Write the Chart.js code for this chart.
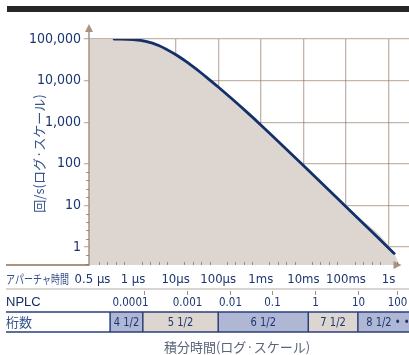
<!DOCTYPE html>
<html>
<head>
<meta charset="utf-8">
<script src="https://cdn.jsdelivr.net/npm/chart.js@4.4.1/dist/chart.umd.min.js"></script>
<style>
  html, body { margin: 0; padding: 0; background: #fff; overflow: hidden; }
  canvas { display: block; }
</style>
</head>
<body>
<canvas id="chart" width="409" height="355"></canvas>
<script>
// 読み取り値 (時間は秒, 回/s)
const curveTime = [3.6e-7, 1e-6, 2e-6, 4e-6, 1e-5, 2e-5, 4e-5, 6.5e-5, 1e-4, 2e-4, 5e-4, 1e-3, 1e-2, 1e-1, 1.35];
const curveRate = [100000, 97000, 88000, 70000, 42300, 26200, 15200, 10100, 7000, 3800, 1650, 860, 91, 9.3, 0.7];
const fillEndTime = 1.8;

const apertureTicks = [1.12e-7, 1e-6, 1e-5, 1e-4, 1e-3, 1e-2, 1e-1, 1];
const apertureLabels = ['0.5 µs', '1 µs', '10µs', '100µs', '1ms', '10ms', '100ms', '1s'];
const rateTicks = [1, 10, 100, 1000, 10000, 100000];
const rateLabels = ['1', '10', '100', '1,000', '10,000', '100,000'];

const nplcLabels = ['0.0001', '0.001', '0.01', '0.1', '1', '10', '100'];
const nplcTime = [1.8e-6, 1.85e-5, 1.9e-4, 1.85e-3, 1.87e-2, 0.19, 1.57];

const digitLabels = ['4 1/2', '5 1/2', '6 1/2', '7 1/2', '8 1/2 • •'];
const digitEdges = [2.9e-7, 1.7e-6, 1.0e-4, 1.3e-2, 0.19, 5];

const X_MIN = 9.27e-8, X_MAX = 3.01;
const Y_MIN = 0.368, Y_MAX = 100000;

const NAVY = '#1c3672';
const BEIGE = '#ddd6d0';
const BLUE = '#b0b7d5';
const GRID = 'rgba(140,105,85,0.5)';
const AXIS = '#a89282';
const NARROW = "'Liberation Sans Narrow', 'DejaVu Sans Condensed', sans-serif";
const CJK = "'Noto Sans CJK JP', sans-serif";

const curvePts = curveTime.map((t, i) => ({ x: t, y: curveRate[i] }));
const fillPts = [{ x: X_MIN, y: Y_MAX }].concat(curvePts, [{ x: fillEndTime, y: Y_MIN }]);

function txt(c, s, x, y, font, color, align, sx) {
  c.save();
  c.font = font;
  c.fillStyle = color;
  c.textAlign = align || 'left';
  c.textBaseline = 'middle';
  c.translate(x, y);
  c.scale(sx || 1, 1);
  c.fillText(s, 0, 0);
  c.restore();
}

// 軸の矢印, 副目盛り, 下の表
const extras = {
  id: 'extras',
  afterDraw(chart) {
    const c = chart.ctx, xs = chart.scales.x, ys = chart.scales.y, a = chart.chartArea;
    const W = chart.width;

    // 上の黒帯
    c.fillStyle = '#262626';
    c.fillRect(7, 6, W - 7, 6);

    // 縦軸と矢印
    c.strokeStyle = AXIS; c.fillStyle = AXIS; c.lineWidth = 1.5;
    c.beginPath(); c.moveTo(a.left, 31); c.lineTo(a.left, a.bottom + 1); c.stroke();
    c.beginPath(); c.moveTo(a.left, 24); c.lineTo(a.left - 4, 32); c.lineTo(a.left + 4, 32); c.closePath(); c.fill();

    // 横軸 (左側の線と矢印)
    c.lineWidth = 2;
    c.beginPath(); c.moveTo(6, a.bottom); c.lineTo(a.left, a.bottom); c.stroke();
    const tip = xs.getPixelForValue(fillEndTime) + 2;
    c.beginPath(); c.moveTo(tip, a.bottom); c.lineTo(tip - 8, a.bottom - 4); c.lineTo(tip - 8, a.bottom + 4); c.closePath(); c.fill();

    // 副目盛り
    c.lineWidth = 1;
    c.strokeStyle = 'rgba(140,115,100,0.8)';
    for (let d = -8; d <= 1; d++) {
      for (let k = 1; k < 5; k++) {
        const v = Math.pow(10, d + k * 0.2);
        if (v > X_MIN && v < fillEndTime) {
          const px = Math.round(xs.getPixelForValue(v)) + 0.5;
          c.beginPath(); c.moveTo(px, a.bottom - 3); c.lineTo(px, a.bottom); c.stroke();
        }
        if (v > Y_MIN && v < Y_MAX) {
          const py = Math.round(ys.getPixelForValue(v)) + 0.5;
          c.beginPath(); c.moveTo(a.left - 3, py); c.lineTo(a.left, py); c.stroke();
        }
      }
    }

    // 縦軸タイトル
    c.save();
    c.translate(39, 153.5);
    c.rotate(-Math.PI / 2);
    txt(c, '回/s(ログ·スケール)', 0, 0, '13px ' + CJK, '#37558f', 'center');
    c.restore();

    // アパーチャ時間の行
    txt(c, 'アパーチャ時間', 6, 279, '12px ' + CJK, '#34508a', 'left', 0.75);
    c.strokeStyle = '#cdc6c0'; c.lineWidth = 1.5;
    c.beginPath(); c.moveTo(6, 289); c.lineTo(W, 289); c.stroke();

    // NPLC の行
    txt(c, 'NPLC', 6, 302, '13px "Liberation Sans", sans-serif', '#142a5e', 'left');
    c.strokeStyle = '#a09080'; c.lineWidth = 1;
    nplcTime.forEach((t, i) => {
      const px = Math.round(xs.getPixelForValue(t)) + 0.5;
      c.beginPath(); c.moveTo(px, 291); c.lineTo(px, 295); c.stroke();
      if (i === 0) txt(c, nplcLabels[i], px + 4, 303, '13px ' + NARROW, NAVY, 'right', 0.88);
      else txt(c, nplcLabels[i], px, 303, '13px ' + NARROW, NAVY, 'center', 0.88);
    });

    // 桁数の行
    const top = 312, bot = 332;
    for (let i = 0; i < digitLabels.length; i++) {
      const x0 = xs.getPixelForValue(digitEdges[i]);
      const x1 = xs.getPixelForValue(digitEdges[i + 1]);
      c.fillStyle = i % 2 === 0 ? BLUE : BEIGE;
      c.fillRect(x0, top, x1 - x0, bot - top);
      txt(c, digitLabels[i], (x0 + Math.min(x1, W + 9)) / 2, 322.5, '13px ' + NARROW, NAVY, 'center', 0.85);
    }
    c.strokeStyle = '#2a3f7a'; c.lineWidth = 1.5;
    c.beginPath();
    c.moveTo(6, top); c.lineTo(W, top);
    c.moveTo(6, bot); c.lineTo(W, bot);
    digitEdges.slice(0, -1).forEach(t => {
      const px = xs.getPixelForValue(t);
      c.moveTo(px, top); c.lineTo(px, bot);
    });
    c.stroke();
    txt(c, '桁数', 6, 322, '13px ' + CJK, '#34508a', 'left');

    // 横軸タイトル
    txt(c, '積分時間(ログ·スケール)', 237, 347, '13px ' + CJK, '#5a6478', 'center');
  }
};

new Chart(document.getElementById('chart'), {
  type: 'line',
  data: {
    datasets: [
      {
        data: curvePts,
        order: 1,
        borderColor: '#13306b',
        borderWidth: 2.8,
        borderCapStyle: 'round',
        pointRadius: 0,
        fill: false,
        cubicInterpolationMode: 'monotone'
      },
      {
        data: fillPts,
        order: 2,
        backgroundColor: BEIGE,
        borderWidth: 0,
        pointRadius: 0,
        fill: 'start',
        cubicInterpolationMode: 'monotone'
      }
    ]
  },
  options: {
    responsive: false,
    animation: false,
    layout: { padding: { top: 39, right: 0, bottom: 0, left: 0 } },
    plugins: { legend: { display: false }, tooltip: { enabled: false } },
    scales: {
      x: {
        type: 'logarithmic',
        min: X_MIN,
        max: X_MAX,
        z: 1,
        border: { display: false },
        grid: {
          color: ctx => ctx.index === 0 ? 'rgba(0,0,0,0)' : GRID,
          lineWidth: 1.3,
          drawTicks: false
        },
        ticks: {
          autoSkip: false,
          maxRotation: 0,
          padding: 7,
          color: NAVY,
          font: { family: NARROW, size: 13 },
          callback: (v, i) => apertureLabels[i]
        },
        afterBuildTicks: s => { s.ticks = apertureTicks.map(v => ({ value: v })); },
        afterFit: s => { s.height = 90; }
      },
      y: {
        type: 'logarithmic',
        min: Y_MIN,
        max: Y_MAX,
        z: 1,
        border: { display: false },
        grid: { color: GRID, lineWidth: 1.3, tickLength: 5 },
        ticks: {
          padding: 3,
          color: NAVY,
          font: { family: NARROW, size: 14 },
          callback: (v, i) => rateLabels[i]
        },
        afterBuildTicks: s => { s.ticks = rateTicks.map(v => ({ value: v })); },
        afterFit: s => { s.width = 89; }
      }
    }
  },
  plugins: [extras]
});
</script>
</body>
</html>
